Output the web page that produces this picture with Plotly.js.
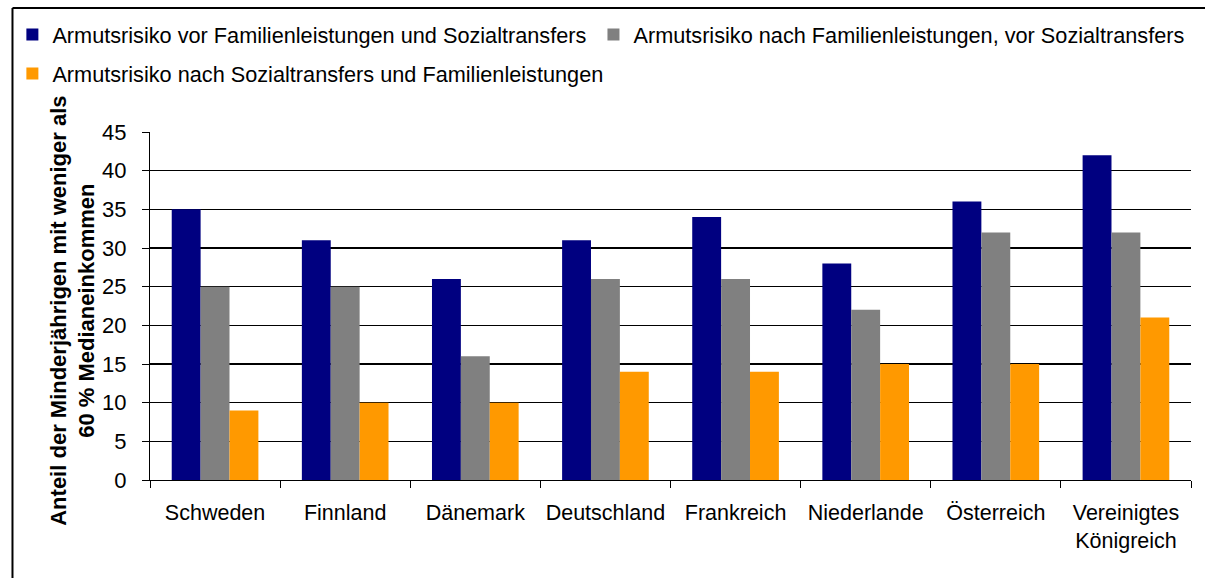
<!DOCTYPE html>
<html>
<head>
<meta charset="utf-8">
<script src="https://cdn.plot.ly/plotly-3.0.1.min.js"></script>
<style>
html, body { margin: 0; padding: 0; background: #ffffff; overflow: hidden; }
#chart { width: 1205px; height: 578px; }
</style>
</head>
<body>
<div id="chart"></div>
<script>
const categories = ["Schweden", "Finnland", "Dänemark", "Deutschland", "Frankreich", "Niederlande", "Österreich", "Vereinigtes<br>Königreich"];
const seriesNames = [
  "Armutsrisiko vor Familienleistungen und Sozialtransfers",
  "Armutsrisiko nach Familienleistungen, vor Sozialtransfers",
  "Armutsrisiko nach Sozialtransfers und Familienleistungen"
];
const vorFamilieUndSozial = [35, 31, 26, 31, 34, 28, 36, 42];
const nachFamilieVorSozial = [25, 25, 16, 26, 26, 22, 32, 32];
const nachSozialUndFamilie = [9, 10, 10, 14, 14, 15, 15, 21];
const yTickValues = [0, 5, 10, 15, 20, 25, 30, 35, 40, 45];
const yTitle = "Anteil der Minderjährigen mit weniger als<br>60 % Medianeinkommen";

const FONT = "Liberation Sans, Arial, Helvetica, sans-serif";

const traces = [
  { type: "bar", name: seriesNames[0], x: categories, y: vorFamilieUndSozial,
    marker: { color: "#000080" }, legend: "legend", hoverinfo: "x+y" },
  { type: "bar", name: seriesNames[1], x: categories, y: nachFamilieVorSozial,
    marker: { color: "#808080" }, legend: "legend3", hoverinfo: "x+y" },
  { type: "bar", name: seriesNames[2], x: categories, y: nachSozialUndFamilie,
    marker: { color: "#FF9900" }, legend: "legend2", hoverinfo: "x+y" }
];

const legendFont = { family: FONT, size: 21.7, color: "#000000" };

const layout = {
  width: 1205,
  height: 578,
  margin: { l: 146, r: 14, t: 132, b: 98 },
  paper_bgcolor: "#ffffff",
  plot_bgcolor: "#ffffff",
  font: { family: FONT, size: 22, color: "#000000" },
  barmode: "group",
  bargap: 0.334,
  bargroupgap: 0,
  showlegend: true,
  legend: {
    orientation: "h",
    x: -0.1322, xanchor: "left",
    y: 1.2787, yanchor: "middle",
    font: legendFont,
    bgcolor: "rgba(0,0,0,0)"
  },
  legend3: {
    orientation: "h",
    x: 0.426, xanchor: "left",
    y: 1.2787, yanchor: "middle",
    font: legendFont,
    bgcolor: "rgba(0,0,0,0)"
  },
  legend2: {
    orientation: "h",
    x: -0.1322, xanchor: "left",
    y: 1.1667, yanchor: "middle",
    font: legendFont,
    bgcolor: "rgba(0,0,0,0)"
  },
  xaxis: {
    type: "category",
    showline: true, linecolor: "#000000", linewidth: 1,
    ticks: "outside", ticklen: 7, tickcolor: "#000000", tickwidth: 1,
    tickson: "boundaries",
    tickangle: 0,
    ticklabelstandoff: 13,
    tickfont: { family: FONT, size: 21.5, color: "#000000" },
    showgrid: false,
    zeroline: false,
    fixedrange: true
  },
  yaxis: {
    range: [0, 45],
    tickvals: yTickValues,
    showline: true, linecolor: "#000000", linewidth: 1,
    ticks: "outside", ticklen: 7, tickcolor: "#000000", tickwidth: 1,
    ticklabelstandoff: 11,
    showgrid: true, gridcolor: "#000000", gridwidth: 1.3,
    zeroline: false,
    tickfont: { family: FONT, size: 22, color: "#000000" },
    automargin: false,
    fixedrange: true
  },
  annotations: [
    { xref: "paper", yref: "paper", x: -0.0742, y: 0.4856, xanchor: "center", yanchor: "middle",
      text: "<b>" + yTitle + "</b>", textangle: -90, showarrow: false,
      font: { family: FONT, size: 22, color: "#000000" } }
  ],
  shapes: [
    { type: "line", xref: "paper", yref: "paper", x0: -0.1321, x1: -0.1321, y0: 1.3563, y1: -0.6,
      line: { color: "#000000", width: 2 } },
    { type: "line", xref: "paper", yref: "paper", x0: -0.1321, x1: 1.2, y0: 1.3563, y1: 1.3563,
      line: { color: "#000000", width: 2 } }
  ]
};

Plotly.newPlot("chart", traces, layout, { displayModeBar: false, staticPlot: true });
</script>
</body>
</html>
